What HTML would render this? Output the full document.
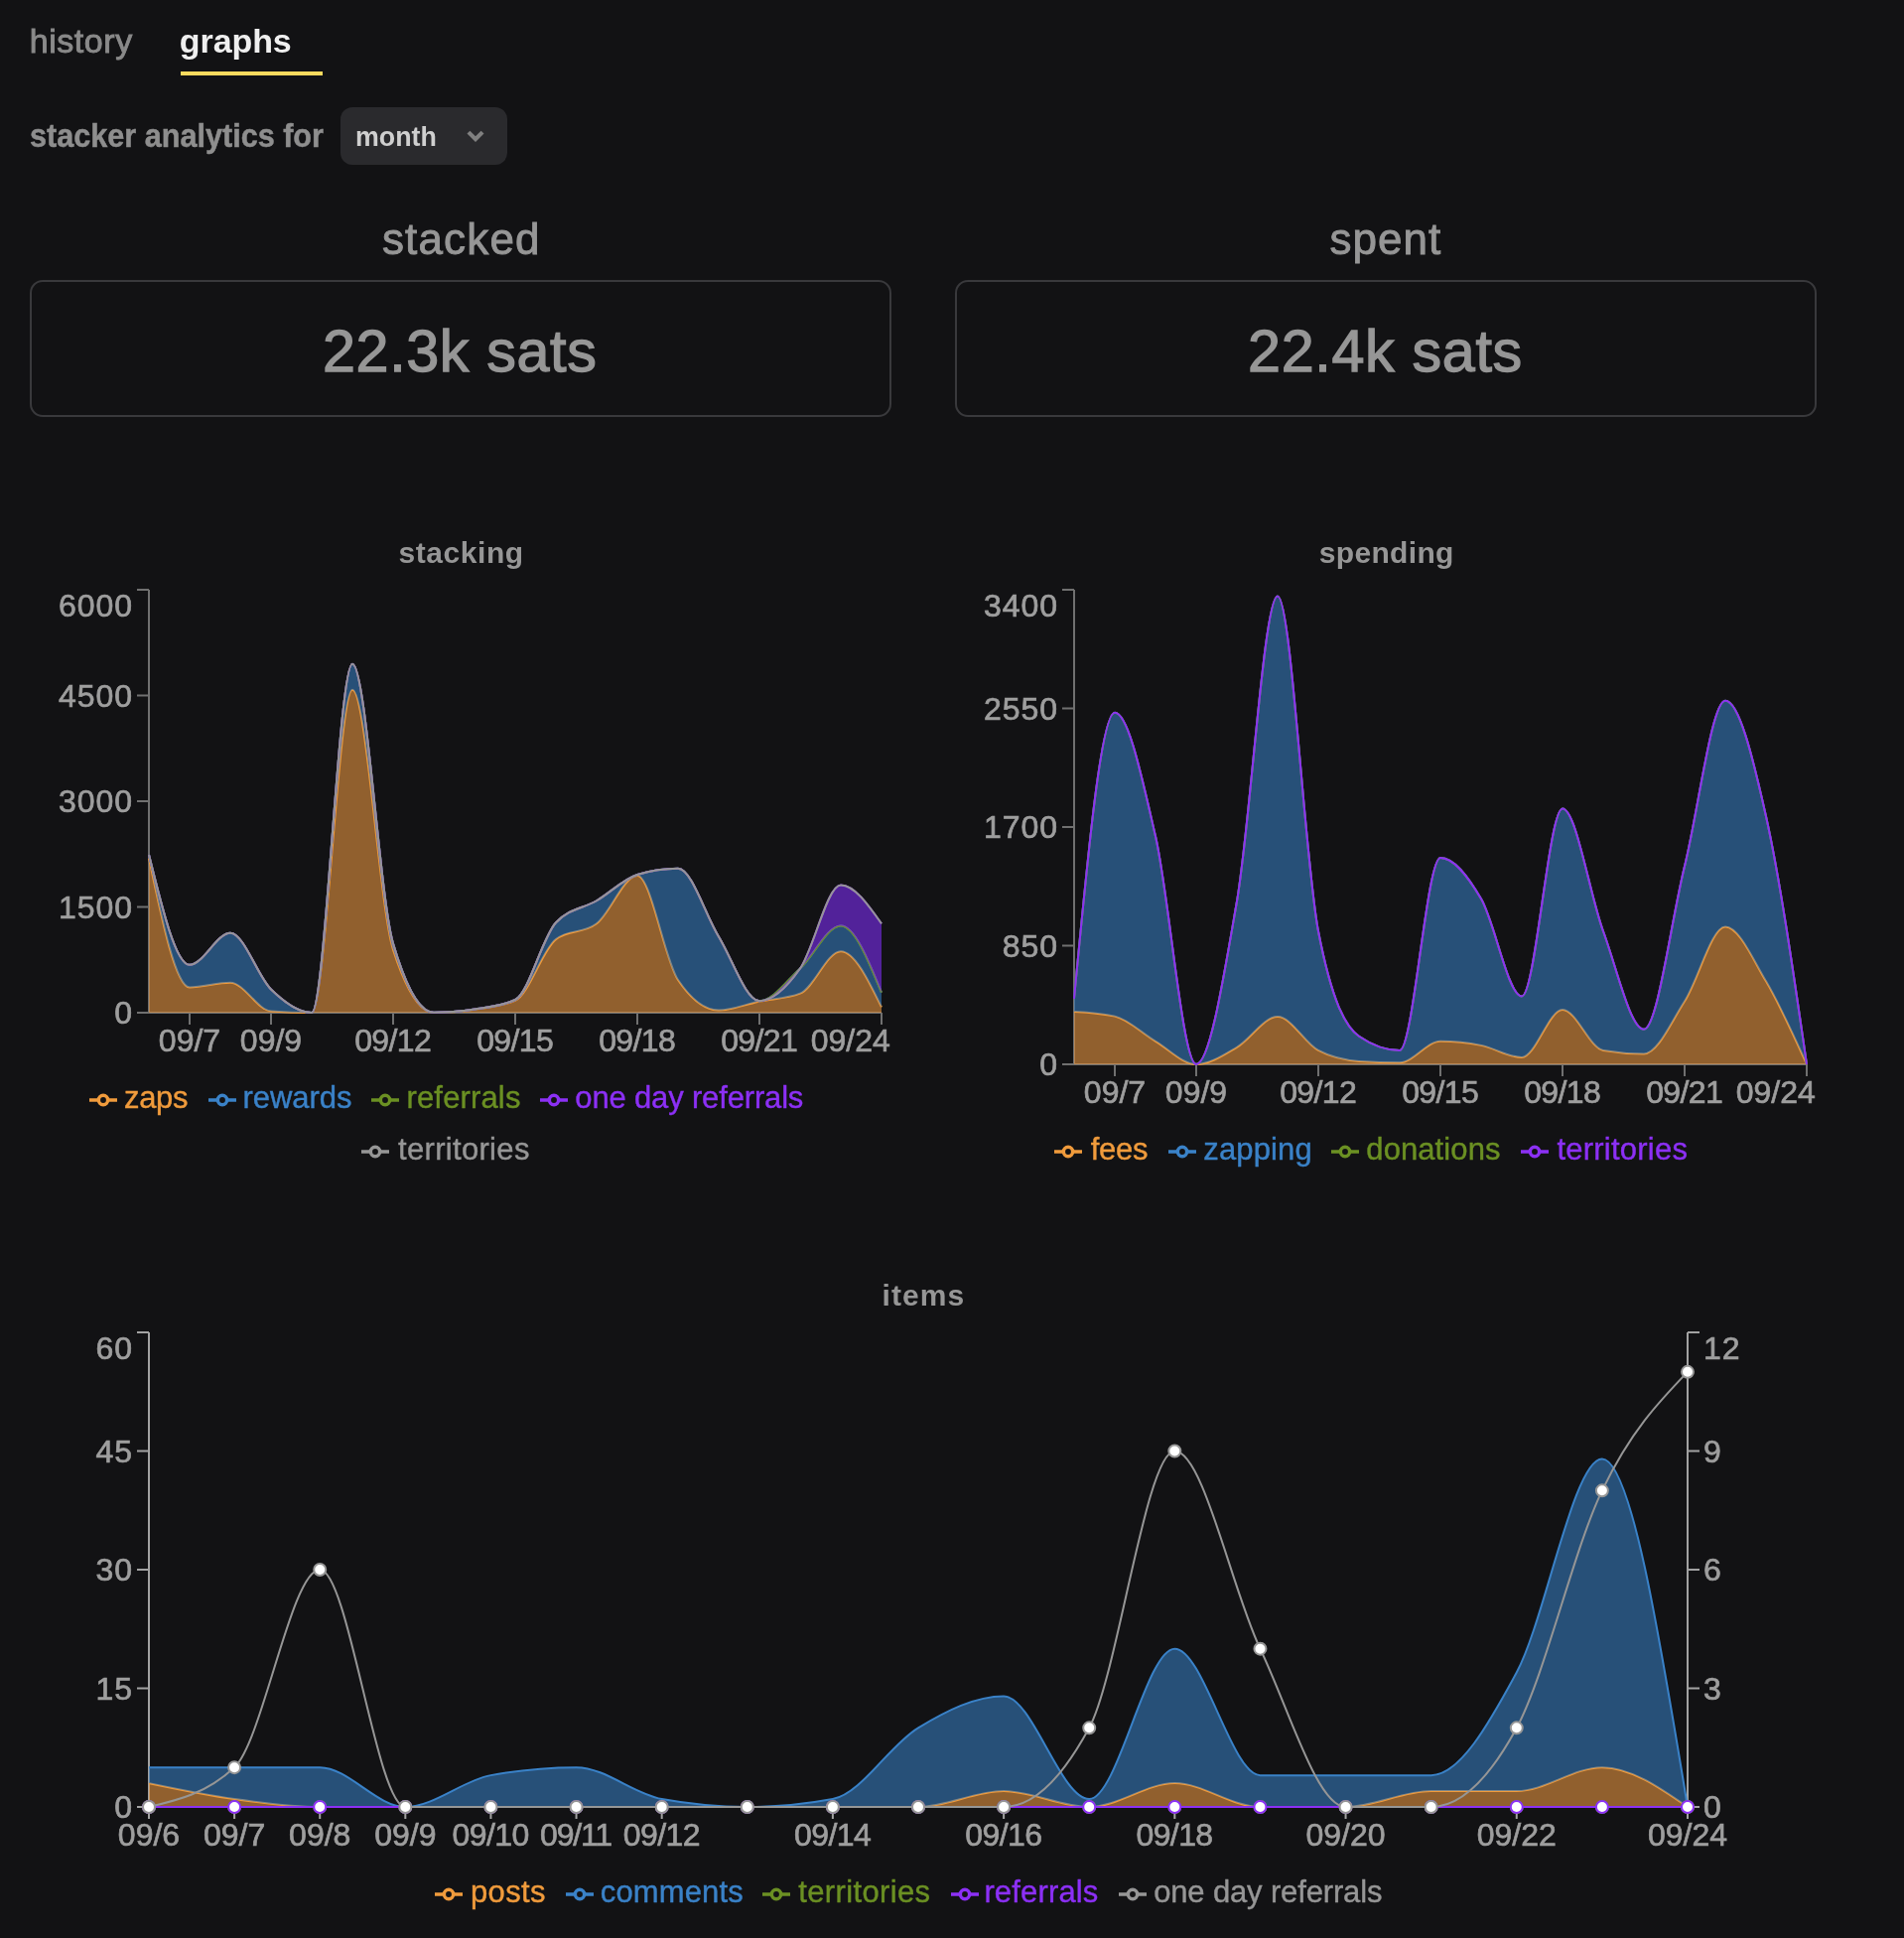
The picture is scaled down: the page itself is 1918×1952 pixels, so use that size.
<!DOCTYPE html>
<html><head><meta charset="utf-8"><title>stacker analytics</title>
<style>
html,body{margin:0;padding:0;background:#121214;}
body{width:1918px;height:1952px;position:relative;overflow:hidden;font-family:"Liberation Sans",sans-serif;color:#969696;}
#pg{position:absolute;left:0;top:0;width:1918px;height:1952px;will-change:transform;}
.t{position:absolute;white-space:nowrap;line-height:1;}
.c{transform:translateX(-50%);}
.b{font-weight:bold;}
.box{position:absolute;box-sizing:border-box;border:2px solid #39393c;border-radius:13px;}
svg.ch{position:absolute;left:0;top:0;}
.tk{font-family:"Liberation Sans",sans-serif;font-size:32px;fill:#9e9e9e;letter-spacing:0.9px;stroke:#9e9e9e;stroke-width:0.7px;}
.tx{letter-spacing:0px;}
.lg{font-size:31px;-webkit-text-stroke:0.4px currentColor;}
.li{position:absolute;width:28px;height:28px;}
.li svg{display:block;}
</style></head>
<body>
<div id="pg">
<div style="position:absolute;left:182px;top:72px;width:143.4px;height:4px;background:#fada5e"></div>
<div style="position:absolute;left:343px;top:108px;width:168px;height:58px;background:#2a2a2d;border-radius:12px"></div>
<div class="t" style="left:29.65px;top:24.12px;font-size:34px;color:#8a8a8a;letter-spacing:0.58px;-webkit-text-stroke:0.9px #8a8a8a;">history</div>
<div class="t b" style="left:180.8px;top:24.12px;font-size:34px;color:#efefef;letter-spacing:-0.08px;">graphs</div>
<div class="t b" style="left:29.84px;top:118.52px;font-size:34px;color:#8e8e8e;transform:scaleX(0.9);transform-origin:0 0;-webkit-text-stroke:0.5px #8e8e8e;">stacker analytics for</div>
<div class="t b" style="left:357.61px;top:122.57px;font-size:28.5px;color:#cfcfcf;transform:scaleX(0.94);transform-origin:0 0;">month</div>
<div class="t" style="left:384.95px;top:218.75px;font-size:44px;color:#969696;letter-spacing:1.15px;-webkit-text-stroke:0.9px #969696;">stacked</div>
<div class="t" style="left:1339.55px;top:218.75px;font-size:44px;color:#969696;letter-spacing:1px;-webkit-text-stroke:0.9px #969696;">spent</div>
<div class="t" style="left:324.95px;top:324px;font-size:59.3px;color:#969696;letter-spacing:0.62px;-webkit-text-stroke:1.3px #969696;">22.3k sats</div>
<div class="t" style="left:1257px;top:324px;font-size:59.3px;color:#969696;letter-spacing:0.66px;-webkit-text-stroke:1.3px #969696;">22.4k sats</div>
<div class="t b" style="left:401.6px;top:542.4px;font-size:30px;color:#969696;letter-spacing:0.54px;">stacking</div>
<div class="t b" style="left:1328.7px;top:542.4px;font-size:30px;color:#969696;letter-spacing:0.34px;">spending</div>
<div class="t b" style="left:888.5px;top:1290.31px;font-size:30px;color:#969696;letter-spacing:1.07px;">items</div>
<svg style="position:absolute;left:460px;top:120px" width="40" height="34" viewBox="460 120 40 34"><polygon points="470.5,134.5 473.4,131.8 479,137.2 484.6,131.8 487.5,134.5 479,143.1" fill="#808080"/></svg>
<div class="box" style="left:30px;top:282px;width:868px;height:138px"></div>
<div class="box" style="left:962px;top:282px;width:868px;height:138px"></div>

<svg class="ch" width="1918" height="1952" viewBox="0 0 1918 1952">
<line x1="150" y1="1020" x2="888" y2="1020" stroke="#707070" stroke-width="2"/>
<line x1="191" y1="1020" x2="191" y2="1032" stroke="#707070" stroke-width="2"/>
<text x="191" y="1058.7" text-anchor="middle" class="tk tx">09/7</text>
<line x1="273" y1="1020" x2="273" y2="1032" stroke="#707070" stroke-width="2"/>
<text x="273" y="1058.7" text-anchor="middle" class="tk tx">09/9</text>
<line x1="396" y1="1020" x2="396" y2="1032" stroke="#707070" stroke-width="2"/>
<text x="395.7" y="1058.7" text-anchor="middle" class="tk tx" style="letter-spacing:-0.6px">09/12</text>
<line x1="519" y1="1020" x2="519" y2="1032" stroke="#707070" stroke-width="2"/>
<text x="518.7" y="1058.7" text-anchor="middle" class="tk tx" style="letter-spacing:-0.6px">09/15</text>
<line x1="642" y1="1020" x2="642" y2="1032" stroke="#707070" stroke-width="2"/>
<text x="641.7" y="1058.7" text-anchor="middle" class="tk tx" style="letter-spacing:-0.6px">09/18</text>
<line x1="765" y1="1020" x2="765" y2="1032" stroke="#707070" stroke-width="2"/>
<text x="764.7" y="1058.7" text-anchor="middle" class="tk tx" style="letter-spacing:-0.6px">09/21</text>
<line x1="888" y1="1020" x2="888" y2="1032" stroke="#707070" stroke-width="2"/>
<text x="896.8" y="1058.7" text-anchor="end" class="tk tx">09/24</text>
<line x1="150" y1="594" x2="150" y2="1020" stroke="#707070" stroke-width="2"/>
<line x1="138" y1="1020" x2="150" y2="1020" stroke="#707070" stroke-width="2"/>
<text x="133.9" y="1031.4" text-anchor="end" class="tk">0</text>
<line x1="138" y1="913.5" x2="150" y2="913.5" stroke="#707070" stroke-width="2"/>
<text x="133.9" y="924.9" text-anchor="end" class="tk">1500</text>
<line x1="138" y1="807" x2="150" y2="807" stroke="#707070" stroke-width="2"/>
<text x="133.9" y="818.4" text-anchor="end" class="tk">3000</text>
<line x1="138" y1="700.5" x2="150" y2="700.5" stroke="#707070" stroke-width="2"/>
<text x="133.9" y="711.9" text-anchor="end" class="tk">4500</text>
<line x1="138" y1="594" x2="150" y2="594" stroke="#707070" stroke-width="2"/>
<text x="133.9" y="621.4" text-anchor="end" class="tk">6000</text>
<path d="M150,864.51C163.67,929.48,177.33,994.44,191,994.44C204.67,994.44,218.33,989.68,232,989.68C245.67,989.68,259.33,1017.4,273,1018.44C286.67,1019.48,300.33,1020,314,1020C327.67,1020,341.33,694.82,355,694.82C368.67,694.82,382.33,914.33,396,956.6C409.67,998.87,423.33,1020,437,1020C450.67,1020,464.33,1018.82,478,1016.8C491.67,1014.79,505.33,1013.85,519,1007.93C532.67,1002.01,546.33,956.6,560,946.09C573.67,935.58,587.33,940.84,601,930.33C614.67,919.82,628.33,882.05,642,882.05C655.67,882.05,669.33,966.63,683,986.99C696.67,1007.34,710.33,1017.51,724,1017.51C737.67,1017.51,751.33,1011.44,765,1008.64C778.67,1005.84,792.33,1005.99,806,1000.69C819.67,995.39,833.33,958.16,847,958.16C860.67,958.16,874.33,986.27,888,1014.39L888,1020C874.33,1020,860.67,1020,847,1020C833.33,1020,819.67,1020,806,1020C792.33,1020,778.67,1020,765,1020C751.33,1020,737.67,1020,724,1020C710.33,1020,696.67,1020,683,1020C669.33,1020,655.67,1020,642,1020C628.33,1020,614.67,1020,601,1020C587.33,1020,573.67,1020,560,1020C546.33,1020,532.67,1020,519,1020C505.33,1020,491.67,1020,478,1020C464.33,1020,450.67,1020,437,1020C423.33,1020,409.67,1020,396,1020C382.33,1020,368.67,1020,355,1020C341.33,1020,327.67,1020,314,1020C300.33,1020,286.67,1020,273,1020C259.33,1020,245.67,1020,232,1020C218.33,1020,204.67,1020,191,1020C177.33,1020,163.67,1020,150,1020Z" fill="#e6943f" fill-opacity="0.6" stroke="none"/>
<path d="M150,864.51C163.67,929.48,177.33,994.44,191,994.44C204.67,994.44,218.33,989.68,232,989.68C245.67,989.68,259.33,1017.4,273,1018.44C286.67,1019.48,300.33,1020,314,1020C327.67,1020,341.33,694.82,355,694.82C368.67,694.82,382.33,914.33,396,956.6C409.67,998.87,423.33,1020,437,1020C450.67,1020,464.33,1018.82,478,1016.8C491.67,1014.79,505.33,1013.85,519,1007.93C532.67,1002.01,546.33,956.6,560,946.09C573.67,935.58,587.33,940.84,601,930.33C614.67,919.82,628.33,882.05,642,882.05C655.67,882.05,669.33,966.63,683,986.99C696.67,1007.34,710.33,1017.51,724,1017.51C737.67,1017.51,751.33,1011.44,765,1008.64C778.67,1005.84,792.33,1005.99,806,1000.69C819.67,995.39,833.33,958.16,847,958.16C860.67,958.16,874.33,986.27,888,1014.39" fill="none" stroke="#f09b3c" stroke-width="2"/>
<path d="M150,860.96C163.67,916.41,177.33,971.86,191,971.86C204.67,971.86,218.33,939.77,232,939.77C245.67,939.77,259.33,983.13,273,996.5C286.67,1009.87,300.33,1020,314,1020C327.67,1020,341.33,668.76,355,668.76C368.67,668.76,382.33,903.94,396,950.28C409.67,996.62,423.33,1019.79,437,1019.79C450.67,1019.79,464.33,1018.65,478,1016.52C491.67,1014.39,505.33,1013.35,519,1007.01C532.67,1000.66,546.33,943.94,560,929.26C573.67,914.59,587.33,915.3,601,907.25C614.67,899.21,628.33,885.19,642,880.98C655.67,876.77,669.33,874.66,683,874.66C696.67,874.66,710.33,921.22,724,943.46C737.67,965.71,751.33,1008.14,765,1008.14C778.67,1008.14,792.33,988.1,806,975.48C819.67,962.87,833.33,932.46,847,932.46C860.67,932.46,874.33,966.08,888,999.69L888,1014.39C874.33,986.27,860.67,958.16,847,958.16C833.33,958.16,819.67,995.39,806,1000.69C792.33,1005.99,778.67,1005.84,765,1008.64C751.33,1011.44,737.67,1017.51,724,1017.51C710.33,1017.51,696.67,1007.34,683,986.99C669.33,966.63,655.67,882.05,642,882.05C628.33,882.05,614.67,919.82,601,930.33C587.33,940.84,573.67,935.58,560,946.09C546.33,956.6,532.67,1002.01,519,1007.93C505.33,1013.85,491.67,1014.79,478,1016.8C464.33,1018.82,450.67,1020,437,1020C423.33,1020,409.67,998.87,396,956.6C382.33,914.33,368.67,694.82,355,694.82C341.33,694.82,327.67,1020,314,1020C300.33,1020,286.67,1019.48,273,1018.44C259.33,1017.4,245.67,989.68,232,989.68C218.33,989.68,204.67,994.44,191,994.44C177.33,994.44,163.67,929.48,150,864.51Z" fill="#3579bb" fill-opacity="0.6" stroke="none"/>
<path d="M150,860.96C163.67,916.41,177.33,971.86,191,971.86C204.67,971.86,218.33,939.77,232,939.77C245.67,939.77,259.33,983.13,273,996.5C286.67,1009.87,300.33,1020,314,1020C327.67,1020,341.33,668.76,355,668.76C368.67,668.76,382.33,903.94,396,950.28C409.67,996.62,423.33,1019.79,437,1019.79C450.67,1019.79,464.33,1018.65,478,1016.52C491.67,1014.39,505.33,1013.35,519,1007.01C532.67,1000.66,546.33,943.94,560,929.26C573.67,914.59,587.33,915.3,601,907.25C614.67,899.21,628.33,885.19,642,880.98C655.67,876.77,669.33,874.66,683,874.66C696.67,874.66,710.33,921.22,724,943.46C737.67,965.71,751.33,1008.14,765,1008.14C778.67,1008.14,792.33,988.1,806,975.48C819.67,962.87,833.33,932.46,847,932.46C860.67,932.46,874.33,966.08,888,999.69" fill="none" stroke="#3a82c8" stroke-width="2"/>
<path d="M150,860.96C163.67,916.41,177.33,971.86,191,971.86C204.67,971.86,218.33,939.77,232,939.77C245.67,939.77,259.33,983.13,273,996.5C286.67,1009.87,300.33,1020,314,1020C327.67,1020,341.33,668.76,355,668.76C368.67,668.76,382.33,903.94,396,950.28C409.67,996.62,423.33,1019.79,437,1019.79C450.67,1019.79,464.33,1018.65,478,1016.52C491.67,1014.39,505.33,1013.35,519,1007.01C532.67,1000.66,546.33,943.94,560,929.26C573.67,914.59,587.33,915.3,601,907.25C614.67,899.21,628.33,885.19,642,880.98C655.67,876.77,669.33,874.66,683,874.66C696.67,874.66,710.33,921.22,724,943.46C737.67,965.71,751.33,1008.14,765,1008.14C778.67,1008.14,792.33,988.1,806,975.48C819.67,962.87,833.33,932.46,847,932.46C860.67,932.46,874.33,966.08,888,999.69L888,999.69C874.33,966.08,860.67,932.46,847,932.46C833.33,932.46,819.67,962.87,806,975.48C792.33,988.1,778.67,1008.14,765,1008.14C751.33,1008.14,737.67,965.71,724,943.46C710.33,921.22,696.67,874.66,683,874.66C669.33,874.66,655.67,876.77,642,880.98C628.33,885.19,614.67,899.21,601,907.25C587.33,915.3,573.67,914.59,560,929.26C546.33,943.94,532.67,1000.66,519,1007.01C505.33,1013.35,491.67,1014.39,478,1016.52C464.33,1018.65,450.67,1019.79,437,1019.79C423.33,1019.79,409.67,996.62,396,950.28C382.33,903.94,368.67,668.76,355,668.76C341.33,668.76,327.67,1020,314,1020C300.33,1020,286.67,1009.87,273,996.5C259.33,983.13,245.67,939.77,232,939.77C218.33,939.77,204.67,971.86,191,971.86C177.33,971.86,163.67,916.41,150,860.96Z" fill="#6b9023" fill-opacity="0.6" stroke="none"/>
<path d="M150,860.96C163.67,916.41,177.33,971.86,191,971.86C204.67,971.86,218.33,939.77,232,939.77C245.67,939.77,259.33,983.13,273,996.5C286.67,1009.87,300.33,1020,314,1020C327.67,1020,341.33,668.76,355,668.76C368.67,668.76,382.33,903.94,396,950.28C409.67,996.62,423.33,1019.79,437,1019.79C450.67,1019.79,464.33,1018.65,478,1016.52C491.67,1014.39,505.33,1013.35,519,1007.01C532.67,1000.66,546.33,943.94,560,929.26C573.67,914.59,587.33,915.3,601,907.25C614.67,899.21,628.33,885.19,642,880.98C655.67,876.77,669.33,874.66,683,874.66C696.67,874.66,710.33,921.22,724,943.46C737.67,965.71,751.33,1008.14,765,1008.14C778.67,1008.14,792.33,988.1,806,975.48C819.67,962.87,833.33,932.46,847,932.46C860.67,932.46,874.33,966.08,888,999.69" fill="none" stroke="#6b9023" stroke-width="2"/>
<path d="M150,860.96C163.67,916.41,177.33,971.86,191,971.86C204.67,971.86,218.33,939.77,232,939.77C245.67,939.77,259.33,983.13,273,996.5C286.67,1009.87,300.33,1020,314,1020C327.67,1020,341.33,668.76,355,668.76C368.67,668.76,382.33,903.94,396,950.28C409.67,996.62,423.33,1019.79,437,1019.79C450.67,1019.79,464.33,1018.65,478,1016.52C491.67,1014.39,505.33,1013.35,519,1007.01C532.67,1000.66,546.33,943.94,560,929.26C573.67,914.59,587.33,915.3,601,907.25C614.67,899.21,628.33,885.19,642,880.98C655.67,876.77,669.33,874.66,683,874.66C696.67,874.66,710.33,921.22,724,943.46C737.67,965.71,751.33,1008.14,765,1008.14C778.67,1008.14,792.33,994.93,806,975.48C819.67,956.04,833.33,891.49,847,891.49C860.67,891.49,874.33,910.91,888,930.33L888,999.69C874.33,966.08,860.67,932.46,847,932.46C833.33,932.46,819.67,962.87,806,975.48C792.33,988.1,778.67,1008.14,765,1008.14C751.33,1008.14,737.67,965.71,724,943.46C710.33,921.22,696.67,874.66,683,874.66C669.33,874.66,655.67,876.77,642,880.98C628.33,885.19,614.67,899.21,601,907.25C587.33,915.3,573.67,914.59,560,929.26C546.33,943.94,532.67,1000.66,519,1007.01C505.33,1013.35,491.67,1014.39,478,1016.52C464.33,1018.65,450.67,1019.79,437,1019.79C423.33,1019.79,409.67,996.62,396,950.28C382.33,903.94,368.67,668.76,355,668.76C341.33,668.76,327.67,1020,314,1020C300.33,1020,286.67,1009.87,273,996.5C259.33,983.13,245.67,939.77,232,939.77C218.33,939.77,204.67,971.86,191,971.86C177.33,971.86,163.67,916.41,150,860.96Z" fill="#7d2df3" fill-opacity="0.6" stroke="none"/>
<path d="M150,860.96C163.67,916.41,177.33,971.86,191,971.86C204.67,971.86,218.33,939.77,232,939.77C245.67,939.77,259.33,983.13,273,996.5C286.67,1009.87,300.33,1020,314,1020C327.67,1020,341.33,668.76,355,668.76C368.67,668.76,382.33,903.94,396,950.28C409.67,996.62,423.33,1019.79,437,1019.79C450.67,1019.79,464.33,1018.65,478,1016.52C491.67,1014.39,505.33,1013.35,519,1007.01C532.67,1000.66,546.33,943.94,560,929.26C573.67,914.59,587.33,915.3,601,907.25C614.67,899.21,628.33,885.19,642,880.98C655.67,876.77,669.33,874.66,683,874.66C696.67,874.66,710.33,921.22,724,943.46C737.67,965.71,751.33,1008.14,765,1008.14C778.67,1008.14,792.33,994.93,806,975.48C819.67,956.04,833.33,891.49,847,891.49C860.67,891.49,874.33,910.91,888,930.33" fill="none" stroke="#8c30f5" stroke-width="2"/>
<path d="M150,860.96C163.67,916.41,177.33,971.86,191,971.86C204.67,971.86,218.33,939.77,232,939.77C245.67,939.77,259.33,983.13,273,996.5C286.67,1009.87,300.33,1020,314,1020C327.67,1020,341.33,668.76,355,668.76C368.67,668.76,382.33,903.94,396,950.28C409.67,996.62,423.33,1019.79,437,1019.79C450.67,1019.79,464.33,1018.65,478,1016.52C491.67,1014.39,505.33,1013.35,519,1007.01C532.67,1000.66,546.33,943.94,560,929.26C573.67,914.59,587.33,915.3,601,907.25C614.67,899.21,628.33,885.19,642,880.98C655.67,876.77,669.33,874.66,683,874.66C696.67,874.66,710.33,921.22,724,943.46C737.67,965.71,751.33,1008.14,765,1008.14C778.67,1008.14,792.33,994.93,806,975.48C819.67,956.04,833.33,891.49,847,891.49C860.67,891.49,874.33,910.91,888,930.33L888,930.33C874.33,910.91,860.67,891.49,847,891.49C833.33,891.49,819.67,956.04,806,975.48C792.33,994.93,778.67,1008.14,765,1008.14C751.33,1008.14,737.67,965.71,724,943.46C710.33,921.22,696.67,874.66,683,874.66C669.33,874.66,655.67,876.77,642,880.98C628.33,885.19,614.67,899.21,601,907.25C587.33,915.3,573.67,914.59,560,929.26C546.33,943.94,532.67,1000.66,519,1007.01C505.33,1013.35,491.67,1014.39,478,1016.52C464.33,1018.65,450.67,1019.79,437,1019.79C423.33,1019.79,409.67,996.62,396,950.28C382.33,903.94,368.67,668.76,355,668.76C341.33,668.76,327.67,1020,314,1020C300.33,1020,286.67,1009.87,273,996.5C259.33,983.13,245.67,939.77,232,939.77C218.33,939.77,204.67,971.86,191,971.86C177.33,971.86,163.67,916.41,150,860.96Z" fill="#969696" fill-opacity="0.6" stroke="none"/>
<path d="M150,860.96C163.67,916.41,177.33,971.86,191,971.86C204.67,971.86,218.33,939.77,232,939.77C245.67,939.77,259.33,983.13,273,996.5C286.67,1009.87,300.33,1020,314,1020C327.67,1020,341.33,668.76,355,668.76C368.67,668.76,382.33,903.94,396,950.28C409.67,996.62,423.33,1019.79,437,1019.79C450.67,1019.79,464.33,1018.65,478,1016.52C491.67,1014.39,505.33,1013.35,519,1007.01C532.67,1000.66,546.33,943.94,560,929.26C573.67,914.59,587.33,915.3,601,907.25C614.67,899.21,628.33,885.19,642,880.98C655.67,876.77,669.33,874.66,683,874.66C696.67,874.66,710.33,921.22,724,943.46C737.67,965.71,751.33,1008.14,765,1008.14C778.67,1008.14,792.33,994.93,806,975.48C819.67,956.04,833.33,891.49,847,891.49C860.67,891.49,874.33,910.91,888,930.33" fill="none" stroke="#969696" stroke-width="2"/>
<line x1="1082" y1="1072" x2="1820" y2="1072" stroke="#707070" stroke-width="2"/>
<line x1="1123" y1="1072" x2="1123" y2="1084" stroke="#707070" stroke-width="2"/>
<text x="1123" y="1110.7" text-anchor="middle" class="tk tx">09/7</text>
<line x1="1205" y1="1072" x2="1205" y2="1084" stroke="#707070" stroke-width="2"/>
<text x="1205" y="1110.7" text-anchor="middle" class="tk tx">09/9</text>
<line x1="1328" y1="1072" x2="1328" y2="1084" stroke="#707070" stroke-width="2"/>
<text x="1327.7" y="1110.7" text-anchor="middle" class="tk tx" style="letter-spacing:-0.6px">09/12</text>
<line x1="1451" y1="1072" x2="1451" y2="1084" stroke="#707070" stroke-width="2"/>
<text x="1450.7" y="1110.7" text-anchor="middle" class="tk tx" style="letter-spacing:-0.6px">09/15</text>
<line x1="1574" y1="1072" x2="1574" y2="1084" stroke="#707070" stroke-width="2"/>
<text x="1573.7" y="1110.7" text-anchor="middle" class="tk tx" style="letter-spacing:-0.6px">09/18</text>
<line x1="1697" y1="1072" x2="1697" y2="1084" stroke="#707070" stroke-width="2"/>
<text x="1696.7" y="1110.7" text-anchor="middle" class="tk tx" style="letter-spacing:-0.6px">09/21</text>
<line x1="1820" y1="1072" x2="1820" y2="1084" stroke="#707070" stroke-width="2"/>
<text x="1828.8" y="1110.7" text-anchor="end" class="tk tx">09/24</text>
<line x1="1082" y1="594" x2="1082" y2="1072" stroke="#707070" stroke-width="2"/>
<line x1="1070" y1="1072" x2="1082" y2="1072" stroke="#707070" stroke-width="2"/>
<text x="1065.9" y="1083.4" text-anchor="end" class="tk">0</text>
<line x1="1070" y1="952.5" x2="1082" y2="952.5" stroke="#707070" stroke-width="2"/>
<text x="1065.9" y="963.9" text-anchor="end" class="tk">850</text>
<line x1="1070" y1="833" x2="1082" y2="833" stroke="#707070" stroke-width="2"/>
<text x="1065.9" y="844.4" text-anchor="end" class="tk">1700</text>
<line x1="1070" y1="713.5" x2="1082" y2="713.5" stroke="#707070" stroke-width="2"/>
<text x="1065.9" y="724.9" text-anchor="end" class="tk">2550</text>
<line x1="1070" y1="594" x2="1082" y2="594" stroke="#707070" stroke-width="2"/>
<text x="1065.9" y="621.4" text-anchor="end" class="tk">3400</text>
<path d="M1082,1019C1095.67,1019.77,1109.33,1020.54,1123,1023.64C1136.67,1026.73,1150.33,1040.74,1164,1048.8C1177.67,1056.86,1191.33,1072,1205,1072C1218.67,1072,1232.33,1062.84,1246,1054.85C1259.67,1046.86,1273.33,1024.06,1287,1024.06C1300.67,1024.06,1314.33,1050.63,1328,1057.94C1341.67,1065.25,1355.33,1067.97,1369,1068.91C1382.67,1069.84,1396.33,1070.31,1410,1070.31C1423.67,1070.31,1437.33,1048.8,1451,1048.8C1464.67,1048.8,1478.33,1050.19,1492,1052.88C1505.67,1055.57,1519.33,1064.97,1533,1064.97C1546.67,1064.97,1560.33,1017.03,1574,1017.03C1587.67,1017.03,1601.33,1055.6,1615,1057.94C1628.67,1060.28,1642.33,1061.46,1656,1061.46C1669.67,1061.46,1683.33,1029.78,1697,1008.45C1710.67,987.13,1724.33,933.52,1738,933.52C1751.67,933.52,1765.33,965.27,1779,988.35C1792.67,1011.43,1806.33,1041.71,1820,1072L1820,1072C1806.33,1072,1792.67,1072,1779,1072C1765.33,1072,1751.67,1072,1738,1072C1724.33,1072,1710.67,1072,1697,1072C1683.33,1072,1669.67,1072,1656,1072C1642.33,1072,1628.67,1072,1615,1072C1601.33,1072,1587.67,1072,1574,1072C1560.33,1072,1546.67,1072,1533,1072C1519.33,1072,1505.67,1072,1492,1072C1478.33,1072,1464.67,1072,1451,1072C1437.33,1072,1423.67,1072,1410,1072C1396.33,1072,1382.67,1072,1369,1072C1355.33,1072,1341.67,1072,1328,1072C1314.33,1072,1300.67,1072,1287,1072C1273.33,1072,1259.67,1072,1246,1072C1232.33,1072,1218.67,1072,1205,1072C1191.33,1072,1177.67,1072,1164,1072C1150.33,1072,1136.67,1072,1123,1072C1109.33,1072,1095.67,1072,1082,1072Z" fill="#e6943f" fill-opacity="0.6" stroke="none"/>
<path d="M1082,1019C1095.67,1019.77,1109.33,1020.54,1123,1023.64C1136.67,1026.73,1150.33,1040.74,1164,1048.8C1177.67,1056.86,1191.33,1072,1205,1072C1218.67,1072,1232.33,1062.84,1246,1054.85C1259.67,1046.86,1273.33,1024.06,1287,1024.06C1300.67,1024.06,1314.33,1050.63,1328,1057.94C1341.67,1065.25,1355.33,1067.97,1369,1068.91C1382.67,1069.84,1396.33,1070.31,1410,1070.31C1423.67,1070.31,1437.33,1048.8,1451,1048.8C1464.67,1048.8,1478.33,1050.19,1492,1052.88C1505.67,1055.57,1519.33,1064.97,1533,1064.97C1546.67,1064.97,1560.33,1017.03,1574,1017.03C1587.67,1017.03,1601.33,1055.6,1615,1057.94C1628.67,1060.28,1642.33,1061.46,1656,1061.46C1669.67,1061.46,1683.33,1029.78,1697,1008.45C1710.67,987.13,1724.33,933.52,1738,933.52C1751.67,933.52,1765.33,965.27,1779,988.35C1792.67,1011.43,1806.33,1041.71,1820,1072" fill="none" stroke="#f09b3c" stroke-width="2"/>
<path d="M1082,1005.92C1095.67,861.89,1109.33,717.86,1123,717.86C1136.67,717.86,1150.33,783.26,1164,842.28C1177.67,901.3,1191.33,1072,1205,1072C1218.67,1072,1232.33,986.38,1246,907.79C1259.67,829.2,1273.33,600.47,1287,600.47C1300.67,600.47,1314.33,867.54,1328,938.02C1341.67,1008.5,1355.33,1034.28,1369,1043.74C1382.67,1053.21,1396.33,1057.94,1410,1057.94C1423.67,1057.94,1437.33,863.93,1451,863.93C1464.67,863.93,1478.33,882.02,1492,905.26C1505.67,928.51,1519.33,1003.39,1533,1003.39C1546.67,1003.39,1560.33,814.58,1574,814.58C1587.67,814.58,1601.33,901,1615,938.02C1628.67,975.04,1642.33,1036.71,1656,1036.71C1669.67,1036.71,1683.33,927.66,1697,872.51C1710.67,817.35,1724.33,705.77,1738,705.77C1751.67,705.77,1765.33,761.14,1779,822.17C1792.67,883.21,1806.33,977.61,1820,1072L1820,1072C1806.33,1041.71,1792.67,1011.43,1779,988.35C1765.33,965.27,1751.67,933.52,1738,933.52C1724.33,933.52,1710.67,987.13,1697,1008.45C1683.33,1029.78,1669.67,1061.46,1656,1061.46C1642.33,1061.46,1628.67,1060.28,1615,1057.94C1601.33,1055.6,1587.67,1017.03,1574,1017.03C1560.33,1017.03,1546.67,1064.97,1533,1064.97C1519.33,1064.97,1505.67,1055.57,1492,1052.88C1478.33,1050.19,1464.67,1048.8,1451,1048.8C1437.33,1048.8,1423.67,1070.31,1410,1070.31C1396.33,1070.31,1382.67,1069.84,1369,1068.91C1355.33,1067.97,1341.67,1065.25,1328,1057.94C1314.33,1050.63,1300.67,1024.06,1287,1024.06C1273.33,1024.06,1259.67,1046.86,1246,1054.85C1232.33,1062.84,1218.67,1072,1205,1072C1191.33,1072,1177.67,1056.86,1164,1048.8C1150.33,1040.74,1136.67,1026.73,1123,1023.64C1109.33,1020.54,1095.67,1019.77,1082,1019Z" fill="#3579bb" fill-opacity="0.6" stroke="none"/>
<path d="M1082,1005.92C1095.67,861.89,1109.33,717.86,1123,717.86C1136.67,717.86,1150.33,783.26,1164,842.28C1177.67,901.3,1191.33,1072,1205,1072C1218.67,1072,1232.33,986.38,1246,907.79C1259.67,829.2,1273.33,600.47,1287,600.47C1300.67,600.47,1314.33,867.54,1328,938.02C1341.67,1008.5,1355.33,1034.28,1369,1043.74C1382.67,1053.21,1396.33,1057.94,1410,1057.94C1423.67,1057.94,1437.33,863.93,1451,863.93C1464.67,863.93,1478.33,882.02,1492,905.26C1505.67,928.51,1519.33,1003.39,1533,1003.39C1546.67,1003.39,1560.33,814.58,1574,814.58C1587.67,814.58,1601.33,901,1615,938.02C1628.67,975.04,1642.33,1036.71,1656,1036.71C1669.67,1036.71,1683.33,927.66,1697,872.51C1710.67,817.35,1724.33,705.77,1738,705.77C1751.67,705.77,1765.33,761.14,1779,822.17C1792.67,883.21,1806.33,977.61,1820,1072" fill="none" stroke="#3a82c8" stroke-width="2"/>
<path d="M1082,1005.92C1095.67,861.89,1109.33,717.86,1123,717.86C1136.67,717.86,1150.33,783.26,1164,842.28C1177.67,901.3,1191.33,1072,1205,1072C1218.67,1072,1232.33,986.38,1246,907.79C1259.67,829.2,1273.33,600.47,1287,600.47C1300.67,600.47,1314.33,867.54,1328,938.02C1341.67,1008.5,1355.33,1034.28,1369,1043.74C1382.67,1053.21,1396.33,1057.94,1410,1057.94C1423.67,1057.94,1437.33,863.93,1451,863.93C1464.67,863.93,1478.33,882.02,1492,905.26C1505.67,928.51,1519.33,1003.39,1533,1003.39C1546.67,1003.39,1560.33,814.58,1574,814.58C1587.67,814.58,1601.33,901,1615,938.02C1628.67,975.04,1642.33,1036.71,1656,1036.71C1669.67,1036.71,1683.33,927.66,1697,872.51C1710.67,817.35,1724.33,705.77,1738,705.77C1751.67,705.77,1765.33,761.14,1779,822.17C1792.67,883.21,1806.33,977.61,1820,1072L1820,1072C1806.33,977.61,1792.67,883.21,1779,822.17C1765.33,761.14,1751.67,705.77,1738,705.77C1724.33,705.77,1710.67,817.35,1697,872.51C1683.33,927.66,1669.67,1036.71,1656,1036.71C1642.33,1036.71,1628.67,975.04,1615,938.02C1601.33,901,1587.67,814.58,1574,814.58C1560.33,814.58,1546.67,1003.39,1533,1003.39C1519.33,1003.39,1505.67,928.51,1492,905.26C1478.33,882.02,1464.67,863.93,1451,863.93C1437.33,863.93,1423.67,1057.94,1410,1057.94C1396.33,1057.94,1382.67,1053.21,1369,1043.74C1355.33,1034.28,1341.67,1008.5,1328,938.02C1314.33,867.54,1300.67,600.47,1287,600.47C1273.33,600.47,1259.67,829.2,1246,907.79C1232.33,986.38,1218.67,1072,1205,1072C1191.33,1072,1177.67,901.3,1164,842.28C1150.33,783.26,1136.67,717.86,1123,717.86C1109.33,717.86,1095.67,861.89,1082,1005.92Z" fill="#6b9023" fill-opacity="0.6" stroke="none"/>
<path d="M1082,1005.92C1095.67,861.89,1109.33,717.86,1123,717.86C1136.67,717.86,1150.33,783.26,1164,842.28C1177.67,901.3,1191.33,1072,1205,1072C1218.67,1072,1232.33,986.38,1246,907.79C1259.67,829.2,1273.33,600.47,1287,600.47C1300.67,600.47,1314.33,867.54,1328,938.02C1341.67,1008.5,1355.33,1034.28,1369,1043.74C1382.67,1053.21,1396.33,1057.94,1410,1057.94C1423.67,1057.94,1437.33,863.93,1451,863.93C1464.67,863.93,1478.33,882.02,1492,905.26C1505.67,928.51,1519.33,1003.39,1533,1003.39C1546.67,1003.39,1560.33,814.58,1574,814.58C1587.67,814.58,1601.33,901,1615,938.02C1628.67,975.04,1642.33,1036.71,1656,1036.71C1669.67,1036.71,1683.33,927.66,1697,872.51C1710.67,817.35,1724.33,705.77,1738,705.77C1751.67,705.77,1765.33,761.14,1779,822.17C1792.67,883.21,1806.33,977.61,1820,1072" fill="none" stroke="#6b9023" stroke-width="2"/>
<path d="M1082,1005.92C1095.67,861.89,1109.33,717.86,1123,717.86C1136.67,717.86,1150.33,783.26,1164,842.28C1177.67,901.3,1191.33,1072,1205,1072C1218.67,1072,1232.33,986.38,1246,907.79C1259.67,829.2,1273.33,600.47,1287,600.47C1300.67,600.47,1314.33,867.54,1328,938.02C1341.67,1008.5,1355.33,1034.28,1369,1043.74C1382.67,1053.21,1396.33,1057.94,1410,1057.94C1423.67,1057.94,1437.33,863.93,1451,863.93C1464.67,863.93,1478.33,882.02,1492,905.26C1505.67,928.51,1519.33,1003.39,1533,1003.39C1546.67,1003.39,1560.33,814.58,1574,814.58C1587.67,814.58,1601.33,901,1615,938.02C1628.67,975.04,1642.33,1036.71,1656,1036.71C1669.67,1036.71,1683.33,927.66,1697,872.51C1710.67,817.35,1724.33,705.77,1738,705.77C1751.67,705.77,1765.33,761.14,1779,822.17C1792.67,883.21,1806.33,977.61,1820,1072L1820,1072C1806.33,977.61,1792.67,883.21,1779,822.17C1765.33,761.14,1751.67,705.77,1738,705.77C1724.33,705.77,1710.67,817.35,1697,872.51C1683.33,927.66,1669.67,1036.71,1656,1036.71C1642.33,1036.71,1628.67,975.04,1615,938.02C1601.33,901,1587.67,814.58,1574,814.58C1560.33,814.58,1546.67,1003.39,1533,1003.39C1519.33,1003.39,1505.67,928.51,1492,905.26C1478.33,882.02,1464.67,863.93,1451,863.93C1437.33,863.93,1423.67,1057.94,1410,1057.94C1396.33,1057.94,1382.67,1053.21,1369,1043.74C1355.33,1034.28,1341.67,1008.5,1328,938.02C1314.33,867.54,1300.67,600.47,1287,600.47C1273.33,600.47,1259.67,829.2,1246,907.79C1232.33,986.38,1218.67,1072,1205,1072C1191.33,1072,1177.67,901.3,1164,842.28C1150.33,783.26,1136.67,717.86,1123,717.86C1109.33,717.86,1095.67,861.89,1082,1005.92Z" fill="#7d2df3" fill-opacity="0.6" stroke="none"/>
<path d="M1082,1005.92C1095.67,861.89,1109.33,717.86,1123,717.86C1136.67,717.86,1150.33,783.26,1164,842.28C1177.67,901.3,1191.33,1072,1205,1072C1218.67,1072,1232.33,986.38,1246,907.79C1259.67,829.2,1273.33,600.47,1287,600.47C1300.67,600.47,1314.33,867.54,1328,938.02C1341.67,1008.5,1355.33,1034.28,1369,1043.74C1382.67,1053.21,1396.33,1057.94,1410,1057.94C1423.67,1057.94,1437.33,863.93,1451,863.93C1464.67,863.93,1478.33,882.02,1492,905.26C1505.67,928.51,1519.33,1003.39,1533,1003.39C1546.67,1003.39,1560.33,814.58,1574,814.58C1587.67,814.58,1601.33,901,1615,938.02C1628.67,975.04,1642.33,1036.71,1656,1036.71C1669.67,1036.71,1683.33,927.66,1697,872.51C1710.67,817.35,1724.33,705.77,1738,705.77C1751.67,705.77,1765.33,761.14,1779,822.17C1792.67,883.21,1806.33,977.61,1820,1072" fill="none" stroke="#8c30f5" stroke-width="2"/>
<line x1="150" y1="1820" x2="1700" y2="1820" stroke="#a2a2a2" stroke-width="2"/>
<line x1="150" y1="1820" x2="150" y2="1832" stroke="#a2a2a2" stroke-width="2"/>
<text x="150" y="1858.7" text-anchor="middle" class="tk tx">09/6</text>
<line x1="236.11" y1="1820" x2="236.11" y2="1832" stroke="#a2a2a2" stroke-width="2"/>
<text x="236.11" y="1858.7" text-anchor="middle" class="tk tx">09/7</text>
<line x1="322.22" y1="1820" x2="322.22" y2="1832" stroke="#a2a2a2" stroke-width="2"/>
<text x="322.22" y="1858.7" text-anchor="middle" class="tk tx">09/8</text>
<line x1="408.33" y1="1820" x2="408.33" y2="1832" stroke="#a2a2a2" stroke-width="2"/>
<text x="408.33" y="1858.7" text-anchor="middle" class="tk tx">09/9</text>
<line x1="494.44" y1="1820" x2="494.44" y2="1832" stroke="#a2a2a2" stroke-width="2"/>
<text x="494.14" y="1858.7" text-anchor="middle" class="tk tx" style="letter-spacing:-0.6px">09/10</text>
<line x1="580.56" y1="1820" x2="580.56" y2="1832" stroke="#a2a2a2" stroke-width="2"/>
<text x="579.96" y="1858.7" text-anchor="middle" class="tk tx" style="letter-spacing:-1.2px">09/11</text>
<line x1="666.67" y1="1820" x2="666.67" y2="1832" stroke="#a2a2a2" stroke-width="2"/>
<text x="666.37" y="1858.7" text-anchor="middle" class="tk tx" style="letter-spacing:-0.6px">09/12</text>
<line x1="838.89" y1="1820" x2="838.89" y2="1832" stroke="#a2a2a2" stroke-width="2"/>
<text x="838.59" y="1858.7" text-anchor="middle" class="tk tx" style="letter-spacing:-0.6px">09/14</text>
<line x1="1011.11" y1="1820" x2="1011.11" y2="1832" stroke="#a2a2a2" stroke-width="2"/>
<text x="1010.81" y="1858.7" text-anchor="middle" class="tk tx" style="letter-spacing:-0.6px">09/16</text>
<line x1="1183.33" y1="1820" x2="1183.33" y2="1832" stroke="#a2a2a2" stroke-width="2"/>
<text x="1183.03" y="1858.7" text-anchor="middle" class="tk tx" style="letter-spacing:-0.6px">09/18</text>
<line x1="1355.56" y1="1820" x2="1355.56" y2="1832" stroke="#a2a2a2" stroke-width="2"/>
<text x="1355.56" y="1858.7" text-anchor="middle" class="tk tx">09/20</text>
<line x1="1527.78" y1="1820" x2="1527.78" y2="1832" stroke="#a2a2a2" stroke-width="2"/>
<text x="1527.78" y="1858.7" text-anchor="middle" class="tk tx">09/22</text>
<line x1="1700" y1="1820" x2="1700" y2="1832" stroke="#a2a2a2" stroke-width="2"/>
<text x="1700" y="1858.7" text-anchor="middle" class="tk tx">09/24</text>
<line x1="150" y1="1342" x2="150" y2="1820" stroke="#a2a2a2" stroke-width="2"/>
<line x1="138" y1="1820" x2="150" y2="1820" stroke="#a2a2a2" stroke-width="2"/>
<text x="133.9" y="1831.4" text-anchor="end" class="tk">0</text>
<line x1="138" y1="1700.5" x2="150" y2="1700.5" stroke="#a2a2a2" stroke-width="2"/>
<text x="133.9" y="1711.9" text-anchor="end" class="tk">15</text>
<line x1="138" y1="1581" x2="150" y2="1581" stroke="#a2a2a2" stroke-width="2"/>
<text x="133.9" y="1592.4" text-anchor="end" class="tk">30</text>
<line x1="138" y1="1461.5" x2="150" y2="1461.5" stroke="#a2a2a2" stroke-width="2"/>
<text x="133.9" y="1472.9" text-anchor="end" class="tk">45</text>
<line x1="138" y1="1342" x2="150" y2="1342" stroke="#a2a2a2" stroke-width="2"/>
<text x="133.9" y="1369.4" text-anchor="end" class="tk">60</text>
<line x1="1700" y1="1342" x2="1700" y2="1820" stroke="#a2a2a2" stroke-width="2"/>
<line x1="1700" y1="1820" x2="1712" y2="1820" stroke="#a2a2a2" stroke-width="2"/>
<text x="1716" y="1831.4" text-anchor="start" class="tk">0</text>
<line x1="1700" y1="1700.5" x2="1712" y2="1700.5" stroke="#a2a2a2" stroke-width="2"/>
<text x="1716" y="1711.9" text-anchor="start" class="tk">3</text>
<line x1="1700" y1="1581" x2="1712" y2="1581" stroke="#a2a2a2" stroke-width="2"/>
<text x="1716" y="1592.4" text-anchor="start" class="tk">6</text>
<line x1="1700" y1="1461.5" x2="1712" y2="1461.5" stroke="#a2a2a2" stroke-width="2"/>
<text x="1716" y="1472.9" text-anchor="start" class="tk">9</text>
<line x1="1700" y1="1342" x2="1712" y2="1342" stroke="#a2a2a2" stroke-width="2"/>
<text x="1716" y="1369.4" text-anchor="start" class="tk">12</text>
<path d="M150,1796.1C178.7,1802.07,207.41,1808.05,236.11,1812.03C264.81,1816.02,293.52,1820,322.22,1820C350.93,1820,379.63,1820,408.33,1820C437.04,1820,465.74,1820,494.44,1820C523.15,1820,551.85,1820,580.56,1820C609.26,1820,637.96,1820,666.67,1820C695.37,1820,724.07,1820,752.78,1820C781.48,1820,810.19,1820,838.89,1820C867.59,1820,896.3,1820,925,1820C953.7,1820,982.41,1804.07,1011.11,1804.07C1039.81,1804.07,1068.52,1820,1097.22,1820C1125.93,1820,1154.63,1796.1,1183.33,1796.1C1212.04,1796.1,1240.74,1820,1269.44,1820C1298.15,1820,1326.85,1820,1355.56,1820C1384.26,1820,1412.96,1804.07,1441.67,1804.07C1470.37,1804.07,1499.07,1804.07,1527.78,1804.07C1556.48,1804.07,1585.19,1780.17,1613.89,1780.17C1642.59,1780.17,1671.3,1800.08,1700,1820L1700,1820C1671.3,1820,1642.59,1820,1613.89,1820C1585.19,1820,1556.48,1820,1527.78,1820C1499.07,1820,1470.37,1820,1441.67,1820C1412.96,1820,1384.26,1820,1355.56,1820C1326.85,1820,1298.15,1820,1269.44,1820C1240.74,1820,1212.04,1820,1183.33,1820C1154.63,1820,1125.93,1820,1097.22,1820C1068.52,1820,1039.81,1820,1011.11,1820C982.41,1820,953.7,1820,925,1820C896.3,1820,867.59,1820,838.89,1820C810.19,1820,781.48,1820,752.78,1820C724.07,1820,695.37,1820,666.67,1820C637.96,1820,609.26,1820,580.56,1820C551.85,1820,523.15,1820,494.44,1820C465.74,1820,437.04,1820,408.33,1820C379.63,1820,350.93,1820,322.22,1820C293.52,1820,264.81,1820,236.11,1820C207.41,1820,178.7,1820,150,1820Z" fill="#e6943f" fill-opacity="0.6" stroke="none"/>
<path d="M150,1796.1C178.7,1802.07,207.41,1808.05,236.11,1812.03C264.81,1816.02,293.52,1820,322.22,1820C350.93,1820,379.63,1820,408.33,1820C437.04,1820,465.74,1820,494.44,1820C523.15,1820,551.85,1820,580.56,1820C609.26,1820,637.96,1820,666.67,1820C695.37,1820,724.07,1820,752.78,1820C781.48,1820,810.19,1820,838.89,1820C867.59,1820,896.3,1820,925,1820C953.7,1820,982.41,1804.07,1011.11,1804.07C1039.81,1804.07,1068.52,1820,1097.22,1820C1125.93,1820,1154.63,1796.1,1183.33,1796.1C1212.04,1796.1,1240.74,1820,1269.44,1820C1298.15,1820,1326.85,1820,1355.56,1820C1384.26,1820,1412.96,1804.07,1441.67,1804.07C1470.37,1804.07,1499.07,1804.07,1527.78,1804.07C1556.48,1804.07,1585.19,1780.17,1613.89,1780.17C1642.59,1780.17,1671.3,1800.08,1700,1820" fill="none" stroke="#f09b3c" stroke-width="2"/>
<path d="M150,1780.17C178.7,1780.17,207.41,1780.17,236.11,1780.17C264.81,1780.17,293.52,1780.17,322.22,1780.17C350.93,1780.17,379.63,1820,408.33,1820C437.04,1820,465.74,1793.44,494.44,1788.13C523.15,1782.82,551.85,1780.17,580.56,1780.17C609.26,1780.17,637.96,1806.72,666.67,1812.03C695.37,1817.34,724.07,1820,752.78,1820C781.48,1820,810.19,1817.34,838.89,1812.03C867.59,1806.72,896.3,1757.59,925,1740.33C953.7,1723.07,982.41,1708.47,1011.11,1708.47C1039.81,1708.47,1068.52,1812.03,1097.22,1812.03C1125.93,1812.03,1154.63,1660.67,1183.33,1660.67C1212.04,1660.67,1240.74,1788.13,1269.44,1788.13C1298.15,1788.13,1326.85,1788.13,1355.56,1788.13C1384.26,1788.13,1412.96,1788.13,1441.67,1788.13C1470.37,1788.13,1499.07,1737.68,1527.78,1684.57C1556.48,1631.46,1585.19,1469.47,1613.89,1469.47C1642.59,1469.47,1671.3,1644.73,1700,1820L1700,1820C1671.3,1800.08,1642.59,1780.17,1613.89,1780.17C1585.19,1780.17,1556.48,1804.07,1527.78,1804.07C1499.07,1804.07,1470.37,1804.07,1441.67,1804.07C1412.96,1804.07,1384.26,1820,1355.56,1820C1326.85,1820,1298.15,1820,1269.44,1820C1240.74,1820,1212.04,1796.1,1183.33,1796.1C1154.63,1796.1,1125.93,1820,1097.22,1820C1068.52,1820,1039.81,1804.07,1011.11,1804.07C982.41,1804.07,953.7,1820,925,1820C896.3,1820,867.59,1820,838.89,1820C810.19,1820,781.48,1820,752.78,1820C724.07,1820,695.37,1820,666.67,1820C637.96,1820,609.26,1820,580.56,1820C551.85,1820,523.15,1820,494.44,1820C465.74,1820,437.04,1820,408.33,1820C379.63,1820,350.93,1820,322.22,1820C293.52,1820,264.81,1816.02,236.11,1812.03C207.41,1808.05,178.7,1802.07,150,1796.1Z" fill="#3579bb" fill-opacity="0.6" stroke="none"/>
<path d="M150,1780.17C178.7,1780.17,207.41,1780.17,236.11,1780.17C264.81,1780.17,293.52,1780.17,322.22,1780.17C350.93,1780.17,379.63,1820,408.33,1820C437.04,1820,465.74,1793.44,494.44,1788.13C523.15,1782.82,551.85,1780.17,580.56,1780.17C609.26,1780.17,637.96,1806.72,666.67,1812.03C695.37,1817.34,724.07,1820,752.78,1820C781.48,1820,810.19,1817.34,838.89,1812.03C867.59,1806.72,896.3,1757.59,925,1740.33C953.7,1723.07,982.41,1708.47,1011.11,1708.47C1039.81,1708.47,1068.52,1812.03,1097.22,1812.03C1125.93,1812.03,1154.63,1660.67,1183.33,1660.67C1212.04,1660.67,1240.74,1788.13,1269.44,1788.13C1298.15,1788.13,1326.85,1788.13,1355.56,1788.13C1384.26,1788.13,1412.96,1788.13,1441.67,1788.13C1470.37,1788.13,1499.07,1737.68,1527.78,1684.57C1556.48,1631.46,1585.19,1469.47,1613.89,1469.47C1642.59,1469.47,1671.3,1644.73,1700,1820" fill="none" stroke="#3a82c8" stroke-width="2"/>
<path d="M150,1820C178.7,1820,207.41,1820,236.11,1820C264.81,1820,293.52,1820,322.22,1820C350.93,1820,379.63,1820,408.33,1820C437.04,1820,465.74,1820,494.44,1820C523.15,1820,551.85,1820,580.56,1820C609.26,1820,637.96,1820,666.67,1820C695.37,1820,724.07,1820,752.78,1820C781.48,1820,810.19,1820,838.89,1820C867.59,1820,896.3,1820,925,1820C953.7,1820,982.41,1820,1011.11,1820C1039.81,1820,1068.52,1820,1097.22,1820C1125.93,1820,1154.63,1820,1183.33,1820C1212.04,1820,1240.74,1820,1269.44,1820C1298.15,1820,1326.85,1820,1355.56,1820C1384.26,1820,1412.96,1820,1441.67,1820C1470.37,1820,1499.07,1820,1527.78,1820C1556.48,1820,1585.19,1820,1613.89,1820C1642.59,1820,1671.3,1820,1700,1820" fill="none" stroke="#6b9023" stroke-width="2"/>
<circle cx="150" cy="1820" r="6" fill="#fff" stroke="#6b9023" stroke-width="2"/>
<circle cx="236.11" cy="1820" r="6" fill="#fff" stroke="#6b9023" stroke-width="2"/>
<circle cx="322.22" cy="1820" r="6" fill="#fff" stroke="#6b9023" stroke-width="2"/>
<circle cx="408.33" cy="1820" r="6" fill="#fff" stroke="#6b9023" stroke-width="2"/>
<circle cx="494.44" cy="1820" r="6" fill="#fff" stroke="#6b9023" stroke-width="2"/>
<circle cx="580.56" cy="1820" r="6" fill="#fff" stroke="#6b9023" stroke-width="2"/>
<circle cx="666.67" cy="1820" r="6" fill="#fff" stroke="#6b9023" stroke-width="2"/>
<circle cx="752.78" cy="1820" r="6" fill="#fff" stroke="#6b9023" stroke-width="2"/>
<circle cx="838.89" cy="1820" r="6" fill="#fff" stroke="#6b9023" stroke-width="2"/>
<circle cx="925" cy="1820" r="6" fill="#fff" stroke="#6b9023" stroke-width="2"/>
<circle cx="1011.11" cy="1820" r="6" fill="#fff" stroke="#6b9023" stroke-width="2"/>
<circle cx="1097.22" cy="1820" r="6" fill="#fff" stroke="#6b9023" stroke-width="2"/>
<circle cx="1183.33" cy="1820" r="6" fill="#fff" stroke="#6b9023" stroke-width="2"/>
<circle cx="1269.44" cy="1820" r="6" fill="#fff" stroke="#6b9023" stroke-width="2"/>
<circle cx="1355.56" cy="1820" r="6" fill="#fff" stroke="#6b9023" stroke-width="2"/>
<circle cx="1441.67" cy="1820" r="6" fill="#fff" stroke="#6b9023" stroke-width="2"/>
<circle cx="1527.78" cy="1820" r="6" fill="#fff" stroke="#6b9023" stroke-width="2"/>
<circle cx="1613.89" cy="1820" r="6" fill="#fff" stroke="#6b9023" stroke-width="2"/>
<circle cx="1700" cy="1820" r="6" fill="#fff" stroke="#6b9023" stroke-width="2"/>
<path d="M150,1820C178.7,1820,207.41,1820,236.11,1820C264.81,1820,293.52,1820,322.22,1820C350.93,1820,379.63,1820,408.33,1820C437.04,1820,465.74,1820,494.44,1820C523.15,1820,551.85,1820,580.56,1820C609.26,1820,637.96,1820,666.67,1820C695.37,1820,724.07,1820,752.78,1820C781.48,1820,810.19,1820,838.89,1820C867.59,1820,896.3,1820,925,1820C953.7,1820,982.41,1820,1011.11,1820C1039.81,1820,1068.52,1820,1097.22,1820C1125.93,1820,1154.63,1820,1183.33,1820C1212.04,1820,1240.74,1820,1269.44,1820C1298.15,1820,1326.85,1820,1355.56,1820C1384.26,1820,1412.96,1820,1441.67,1820C1470.37,1820,1499.07,1820,1527.78,1820C1556.48,1820,1585.19,1820,1613.89,1820C1642.59,1820,1671.3,1820,1700,1820" fill="none" stroke="#8c30f5" stroke-width="2"/>
<circle cx="150" cy="1820" r="6" fill="#fff" stroke="#8c30f5" stroke-width="2"/>
<circle cx="236.11" cy="1820" r="6" fill="#fff" stroke="#8c30f5" stroke-width="2"/>
<circle cx="322.22" cy="1820" r="6" fill="#fff" stroke="#8c30f5" stroke-width="2"/>
<circle cx="408.33" cy="1820" r="6" fill="#fff" stroke="#8c30f5" stroke-width="2"/>
<circle cx="494.44" cy="1820" r="6" fill="#fff" stroke="#8c30f5" stroke-width="2"/>
<circle cx="580.56" cy="1820" r="6" fill="#fff" stroke="#8c30f5" stroke-width="2"/>
<circle cx="666.67" cy="1820" r="6" fill="#fff" stroke="#8c30f5" stroke-width="2"/>
<circle cx="752.78" cy="1820" r="6" fill="#fff" stroke="#8c30f5" stroke-width="2"/>
<circle cx="838.89" cy="1820" r="6" fill="#fff" stroke="#8c30f5" stroke-width="2"/>
<circle cx="925" cy="1820" r="6" fill="#fff" stroke="#8c30f5" stroke-width="2"/>
<circle cx="1011.11" cy="1820" r="6" fill="#fff" stroke="#8c30f5" stroke-width="2"/>
<circle cx="1097.22" cy="1820" r="6" fill="#fff" stroke="#8c30f5" stroke-width="2"/>
<circle cx="1183.33" cy="1820" r="6" fill="#fff" stroke="#8c30f5" stroke-width="2"/>
<circle cx="1269.44" cy="1820" r="6" fill="#fff" stroke="#8c30f5" stroke-width="2"/>
<circle cx="1355.56" cy="1820" r="6" fill="#fff" stroke="#8c30f5" stroke-width="2"/>
<circle cx="1441.67" cy="1820" r="6" fill="#fff" stroke="#8c30f5" stroke-width="2"/>
<circle cx="1527.78" cy="1820" r="6" fill="#fff" stroke="#8c30f5" stroke-width="2"/>
<circle cx="1613.89" cy="1820" r="6" fill="#fff" stroke="#8c30f5" stroke-width="2"/>
<circle cx="1700" cy="1820" r="6" fill="#fff" stroke="#8c30f5" stroke-width="2"/>
<path d="M150,1820C178.7,1813.36,207.41,1806.72,236.11,1780.17C264.81,1753.61,293.52,1581,322.22,1581C350.93,1581,379.63,1820,408.33,1820C437.04,1820,465.74,1820,494.44,1820C523.15,1820,551.85,1820,580.56,1820C609.26,1820,637.96,1820,666.67,1820C695.37,1820,724.07,1820,752.78,1820C781.48,1820,810.19,1820,838.89,1820C867.59,1820,896.3,1820,925,1820C953.7,1820,982.41,1820,1011.11,1820C1039.81,1820,1068.52,1793.44,1097.22,1740.33C1125.93,1687.22,1154.63,1461.5,1183.33,1461.5C1212.04,1461.5,1240.74,1600.92,1269.44,1660.67C1298.15,1720.42,1326.85,1820,1355.56,1820C1384.26,1820,1412.96,1820,1441.67,1820C1470.37,1820,1499.07,1793.44,1527.78,1740.33C1556.48,1687.22,1585.19,1561.08,1613.89,1501.33C1642.59,1441.58,1671.3,1411.71,1700,1381.83" fill="none" stroke="#969696" stroke-width="2"/>
<circle cx="150" cy="1820" r="6" fill="#fff" stroke="#969696" stroke-width="2"/>
<circle cx="236.11" cy="1780.17" r="6" fill="#fff" stroke="#969696" stroke-width="2"/>
<circle cx="322.22" cy="1581" r="6" fill="#fff" stroke="#969696" stroke-width="2"/>
<circle cx="408.33" cy="1820" r="6" fill="#fff" stroke="#969696" stroke-width="2"/>
<circle cx="494.44" cy="1820" r="6" fill="#fff" stroke="#969696" stroke-width="2"/>
<circle cx="580.56" cy="1820" r="6" fill="#fff" stroke="#969696" stroke-width="2"/>
<circle cx="666.67" cy="1820" r="6" fill="#fff" stroke="#969696" stroke-width="2"/>
<circle cx="752.78" cy="1820" r="6" fill="#fff" stroke="#969696" stroke-width="2"/>
<circle cx="838.89" cy="1820" r="6" fill="#fff" stroke="#969696" stroke-width="2"/>
<circle cx="925" cy="1820" r="6" fill="#fff" stroke="#969696" stroke-width="2"/>
<circle cx="1011.11" cy="1820" r="6" fill="#fff" stroke="#969696" stroke-width="2"/>
<circle cx="1097.22" cy="1740.33" r="6" fill="#fff" stroke="#969696" stroke-width="2"/>
<circle cx="1183.33" cy="1461.5" r="6" fill="#fff" stroke="#969696" stroke-width="2"/>
<circle cx="1269.44" cy="1660.67" r="6" fill="#fff" stroke="#969696" stroke-width="2"/>
<circle cx="1355.56" cy="1820" r="6" fill="#fff" stroke="#969696" stroke-width="2"/>
<circle cx="1441.67" cy="1820" r="6" fill="#fff" stroke="#969696" stroke-width="2"/>
<circle cx="1527.78" cy="1740.33" r="6" fill="#fff" stroke="#969696" stroke-width="2"/>
<circle cx="1613.89" cy="1501.33" r="6" fill="#fff" stroke="#969696" stroke-width="2"/>
<circle cx="1700" cy="1381.83" r="6" fill="#fff" stroke="#969696" stroke-width="2"/>
</svg>
<div class="li" style="left:90px;top:1093.8px"><svg width="28" height="28" viewBox="0 0 32 32"><path stroke-width="4" fill="none" stroke="#f09b3c" d="M0,16h10.666666666666666A5.333333333333333,5.333333333333333,0,1,1,21.333333333333332,16H32M21.333333333333332,16A5.333333333333333,5.333333333333333,0,1,1,10.666666666666666,16"/></svg></div>
<div class="t lg" style="left:125px;top:1089.56px;color:#f09b3c;letter-spacing:-0.33px">zaps</div>
<div class="li" style="left:210.1px;top:1093.8px"><svg width="28" height="28" viewBox="0 0 32 32"><path stroke-width="4" fill="none" stroke="#3a82c8" d="M0,16h10.666666666666666A5.333333333333333,5.333333333333333,0,1,1,21.333333333333332,16H32M21.333333333333332,16A5.333333333333333,5.333333333333333,0,1,1,10.666666666666666,16"/></svg></div>
<div class="t lg" style="left:244.6px;top:1089.56px;color:#3a82c8;letter-spacing:-0.07px">rewards</div>
<div class="li" style="left:374px;top:1093.8px"><svg width="28" height="28" viewBox="0 0 32 32"><path stroke-width="4" fill="none" stroke="#6b9023" d="M0,16h10.666666666666666A5.333333333333333,5.333333333333333,0,1,1,21.333333333333332,16H32M21.333333333333332,16A5.333333333333333,5.333333333333333,0,1,1,10.666666666666666,16"/></svg></div>
<div class="t lg" style="left:409.5px;top:1089.56px;color:#6b9023;letter-spacing:0.15px">referrals</div>
<div class="li" style="left:544px;top:1093.8px"><svg width="28" height="28" viewBox="0 0 32 32"><path stroke-width="4" fill="none" stroke="#8c30f5" d="M0,16h10.666666666666666A5.333333333333333,5.333333333333333,0,1,1,21.333333333333332,16H32M21.333333333333332,16A5.333333333333333,5.333333333333333,0,1,1,10.666666666666666,16"/></svg></div>
<div class="t lg" style="left:579.3px;top:1089.56px;color:#8c30f5;letter-spacing:-0.16px">one day referrals</div>
<div class="li" style="left:364px;top:1145.8px"><svg width="28" height="28" viewBox="0 0 32 32"><path stroke-width="4" fill="none" stroke="#969696" d="M0,16h10.666666666666666A5.333333333333333,5.333333333333333,0,1,1,21.333333333333332,16H32M21.333333333333332,16A5.333333333333333,5.333333333333333,0,1,1,10.666666666666666,16"/></svg></div>
<div class="t lg" style="left:401px;top:1141.56px;color:#969696;letter-spacing:0.32px">territories</div>
<div class="li" style="left:1062.1px;top:1145.8px"><svg width="28" height="28" viewBox="0 0 32 32"><path stroke-width="4" fill="none" stroke="#f09b3c" d="M0,16h10.666666666666666A5.333333333333333,5.333333333333333,0,1,1,21.333333333333332,16H32M21.333333333333332,16A5.333333333333333,5.333333333333333,0,1,1,10.666666666666666,16"/></svg></div>
<div class="t lg" style="left:1098.8px;top:1141.56px;color:#f09b3c;letter-spacing:-0.3px">fees</div>
<div class="li" style="left:1176.5px;top:1145.8px"><svg width="28" height="28" viewBox="0 0 32 32"><path stroke-width="4" fill="none" stroke="#3a82c8" d="M0,16h10.666666666666666A5.333333333333333,5.333333333333333,0,1,1,21.333333333333332,16H32M21.333333333333332,16A5.333333333333333,5.333333333333333,0,1,1,10.666666666666666,16"/></svg></div>
<div class="t lg" style="left:1212.3px;top:1141.56px;color:#3a82c8;letter-spacing:0.13px">zapping</div>
<div class="li" style="left:1340.5px;top:1145.8px"><svg width="28" height="28" viewBox="0 0 32 32"><path stroke-width="4" fill="none" stroke="#6b9023" d="M0,16h10.666666666666666A5.333333333333333,5.333333333333333,0,1,1,21.333333333333332,16H32M21.333333333333332,16A5.333333333333333,5.333333333333333,0,1,1,10.666666666666666,16"/></svg></div>
<div class="t lg" style="left:1376.3px;top:1141.56px;color:#6b9023;letter-spacing:0.09px">donations</div>
<div class="li" style="left:1531.8px;top:1145.8px"><svg width="28" height="28" viewBox="0 0 32 32"><path stroke-width="4" fill="none" stroke="#8c30f5" d="M0,16h10.666666666666666A5.333333333333333,5.333333333333333,0,1,1,21.333333333333332,16H32M21.333333333333332,16A5.333333333333333,5.333333333333333,0,1,1,10.666666666666666,16"/></svg></div>
<div class="t lg" style="left:1568.4px;top:1141.56px;color:#8c30f5;letter-spacing:0.24px">territories</div>
<div class="li" style="left:438.2px;top:1894px"><svg width="28" height="28" viewBox="0 0 32 32"><path stroke-width="4" fill="none" stroke="#f09b3c" d="M0,16h10.666666666666666A5.333333333333333,5.333333333333333,0,1,1,21.333333333333332,16H32M21.333333333333332,16A5.333333333333333,5.333333333333333,0,1,1,10.666666666666666,16"/></svg></div>
<div class="t lg" style="left:473.9px;top:1889.76px;color:#f09b3c;letter-spacing:0.38px">posts</div>
<div class="li" style="left:570.2px;top:1894px"><svg width="28" height="28" viewBox="0 0 32 32"><path stroke-width="4" fill="none" stroke="#3a82c8" d="M0,16h10.666666666666666A5.333333333333333,5.333333333333333,0,1,1,21.333333333333332,16H32M21.333333333333332,16A5.333333333333333,5.333333333333333,0,1,1,10.666666666666666,16"/></svg></div>
<div class="t lg" style="left:604.8px;top:1889.76px;color:#3a82c8;letter-spacing:0.13px">comments</div>
<div class="li" style="left:768.4px;top:1894px"><svg width="28" height="28" viewBox="0 0 32 32"><path stroke-width="4" fill="none" stroke="#6b9023" d="M0,16h10.666666666666666A5.333333333333333,5.333333333333333,0,1,1,21.333333333333332,16H32M21.333333333333332,16A5.333333333333333,5.333333333333333,0,1,1,10.666666666666666,16"/></svg></div>
<div class="t lg" style="left:804.3px;top:1889.76px;color:#6b9023;letter-spacing:0.36px">territories</div>
<div class="li" style="left:958.2px;top:1894px"><svg width="28" height="28" viewBox="0 0 32 32"><path stroke-width="4" fill="none" stroke="#8c30f5" d="M0,16h10.666666666666666A5.333333333333333,5.333333333333333,0,1,1,21.333333333333332,16H32M21.333333333333332,16A5.333333333333333,5.333333333333333,0,1,1,10.666666666666666,16"/></svg></div>
<div class="t lg" style="left:991.4px;top:1889.76px;color:#8c30f5;letter-spacing:0.16px">referrals</div>
<div class="li" style="left:1127.2px;top:1894px"><svg width="28" height="28" viewBox="0 0 32 32"><path stroke-width="4" fill="none" stroke="#969696" d="M0,16h10.666666666666666A5.333333333333333,5.333333333333333,0,1,1,21.333333333333332,16H32M21.333333333333332,16A5.333333333333333,5.333333333333333,0,1,1,10.666666666666666,16"/></svg></div>
<div class="t lg" style="left:1162.2px;top:1889.76px;color:#969696;letter-spacing:-0.15px">one day referrals</div>
</div>
</body></html>
